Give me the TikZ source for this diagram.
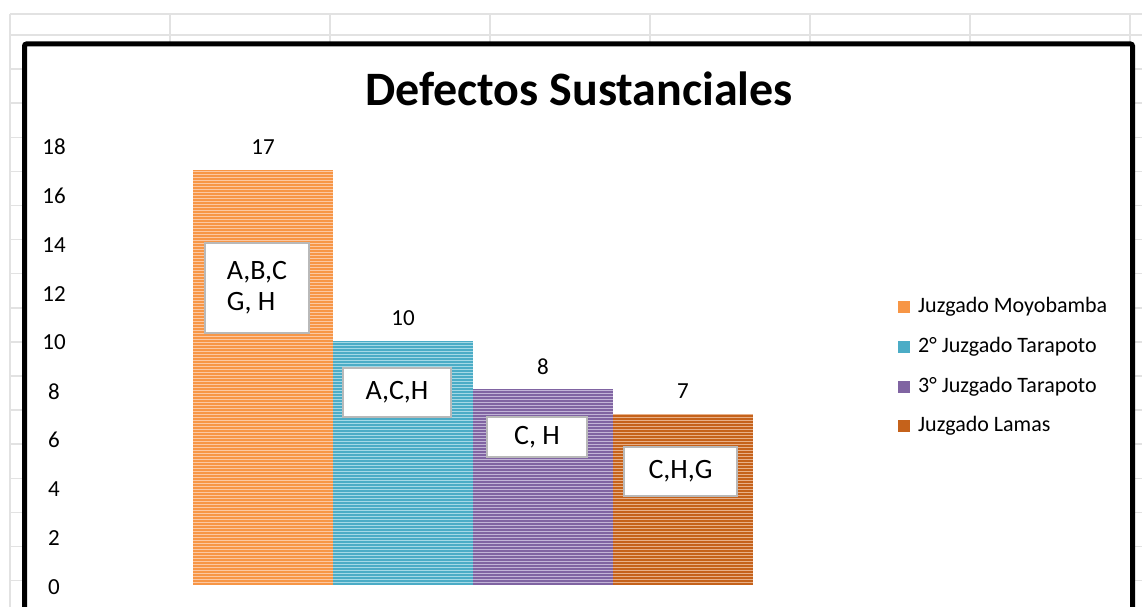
\documentclass[tikz,border=0pt]{standalone}
\usepackage{fontspec}
\setmainfont{Carlito}
\usetikzlibrary{calc}

\definecolor{moyo}{HTML}{F79646}
\definecolor{moyolight}{HTML}{FCC8A2}
\definecolor{tara}{HTML}{4BACC6}
\definecolor{taralight}{HTML}{A4D9E6}
\definecolor{trtres}{HTML}{8064A2}
\definecolor{trtreslight}{HTML}{C2B4D7}
\definecolor{lamas}{HTML}{C5621B}
\definecolor{lamaslight}{HTML}{E8B088}
\definecolor{gridgray}{HTML}{E2E2E2}

\tikzset{
  tag/.style={draw=gray!55, line width=1.5pt, fill=white, inner sep=0pt,
    align=left, font=\fontsize{28}{31}\selectfont},
  axislabel/.style={font=\fontsize{23}{27}\selectfont},
  legendtext/.style={anchor=west, inner sep=0pt, font=\fontsize{22}{26}\selectfont},
}

\begin{document}
\begin{tikzpicture}[x=1pt, y=-1pt]
\useasboundingbox (0,0) rectangle (1142,607);
\clip (0,0) rectangle (1142,607);
% Draw sheet grid
\foreach \gx in {10,170,...,1130}
  \draw[gridgray, line width=1.5pt] (\gx,14) -- (\gx,607);
\draw[gridgray, line width=1.5pt] (10,14) -- (1142,14);
\foreach \k in {0,...,17}
  \draw[gridgray, line width=1.5pt] (10,35+34.1*\k) -- (1142,35+34.1*\k);
% Draw chart frame
\draw[line width=5pt, rounded corners=2pt, fill=white] (24.5,44) rectangle (1132.5,650);
\node[font=\bfseries\fontsize{48}{52}\selectfont] (title) at (579,89) {Defectos Sustanciales};
% Draw axis labels
\foreach \v in {0,2,...,18}
  \node[axislabel] (tick\v) at (54,587-24.45*\v) {\v};
% Draw striped bars
\foreach \bx/\v/\c in {193/17/moyo, 333/10/tara, 473/8/trtres, 613/7/lamas} {
  \begin{scope}
    \clip (\bx,585) rectangle ++(140,-24.4*\v);
    \fill[\c light] (\bx,585) rectangle ++(140,-24.4*\v);
    \foreach \yy in {1,4,...,420}
      \draw[\c, line width=1.1pt] (\bx,585-\yy) -- ++(140,0);
  \end{scope}
  \node[axislabel] (val\v) at (\bx+70,585-24.4*\v-23) {\v};
}
% Draw defect tags
\node[tag, minimum width=104, minimum height=90] (tag1) at (257,288) {A,B,C\\G, H};
\node[tag, minimum width=108, minimum height=49] (tag2) at (397,392.5) {A,C,H};
\node[tag, minimum width=100, minimum height=40] (tag3) at (537,437) {C, H};
\node[tag, minimum width=113, minimum height=49] (tag4) at (680.5,471.5) {C,H,G};
% Draw legend
\foreach \ly/\c/\name in {307/moyo/Juzgado Moyobamba, 347/tara/2° Juzgado Tarapoto,
    387/trtres/3° Juzgado Tarapoto, 426/lamas/Juzgado Lamas} {
  \fill[\c] (898,\ly-6) rectangle ++(12,12);
  \node[legendtext] (leg\ly) at (918,\ly) {\name};
}
\end{tikzpicture}
\end{document}
